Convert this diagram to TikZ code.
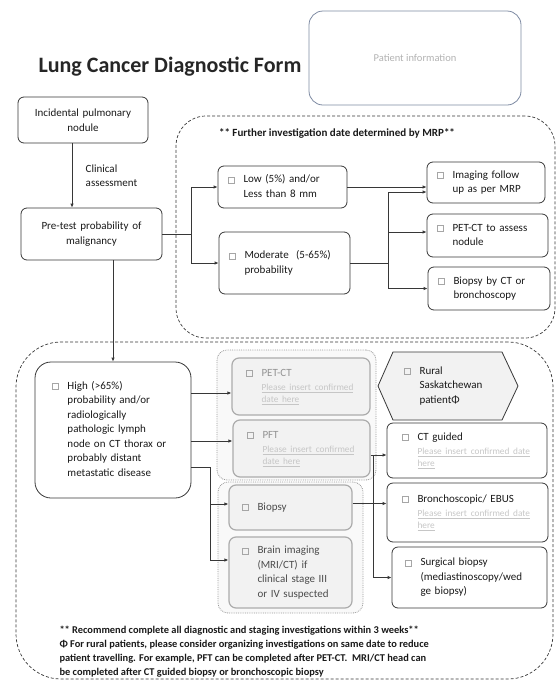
\documentclass[tikz,border=0pt]{standalone}
\usepackage{fontspec}
\setmainfont{Carlito}
\usepackage{xcolor}
\definecolor{inkgray}{RGB}{25,25,25}
\definecolor{framegray}{RGB}{55,55,55}
\definecolor{slateblue}{RGB}{125,138,162}
\usepackage{tikz}
\usetikzlibrary{positioning,arrows.meta}
\newcommand{\chkbx}{{\color{gray!70}\setlength{\fboxsep}{0pt}\setlength{\fboxrule}{0.5pt}\fbox{\rule{0pt}{5.5pt}\rule{5.5pt}{0pt}}}}
\newcommand{\chkitem}[1]{\chkbx\hspace{9pt}\begin{tabular}[t]{@{}l@{}}#1\end{tabular}}
\newcommand{\datefield}[1]{{\color{gray!45}\fontsize{9.3}{10}\selectfont\underline{#1}}}
\tikzstyle{stepbox} = [rectangle, draw=framegray, line width=0.8pt, rounded corners=6pt,
  text=inkgray, align=left, inner xsep=10pt, inner ysep=2pt]
\tikzstyle{graybox} = [stepbox, draw=gray!65, line width=1.2pt, fill=gray!10,
  rounded corners=7pt, text=black!70]
\tikzstyle{dashzone} = [rectangle, draw=framegray, densely dashed, line width=0.7pt]
\tikzstyle{greyzone} = [rectangle, draw=gray!80, densely dotted, line width=0.8pt,
  fill=gray!5, rounded corners=10pt]
\tikzstyle{link} = [draw=framegray, line width=0.8pt, ->]

\begin{document}
\begin{tikzpicture}[x=1pt, y=-1pt, font=\fontsize{11}{14.5}\selectfont,
  >={Latex[length=4pt,width=3.5pt]}]
  \useasboundingbox (0,0) rectangle (557,681);

  \node[anchor=base west, font=\fontsize{22}{26}\selectfont\bfseries, text=black!85] (title) at (35,72) {Lung Cancer Diagnostic Form};
  \node[draw=slateblue, line width=0.8pt, rounded corners=14pt, minimum width=212, minimum height=94,
    text=gray!60, font=\fontsize{10.5}{12}\selectfont] (patient) at (415,58) {Patient information};

  % dashed zones and grey groups
  \node[dashzone, rounded corners=30pt, minimum width=379, minimum height=222] (mrpzone) at (365.5,227) {};
  \node[font=\fontsize{11}{13}\selectfont\bfseries, text=inkgray] (mrpnote) at (337,133) {** Further investigation date determined by MRP**};
  \node[dashzone, rounded corners=45pt, minimum width=537, minimum height=337] (highzone) at (284.5,510.5) {};
  \node[greyzone, minimum width=159, minimum height=130] (imgzone) at (296.5,415) {};
  \node[greyzone, minimum width=145, minimum height=131] (bxzone) at (290.5,547.5) {};

  \node[stepbox, align=center, text width=110, minimum height=46] (nodule) at (83,120) {Incidental pulmonary\\nodule};
  \node[stepbox, align=center, text width=121, minimum height=52] (pretest) at (91.5,234) {Pre-test probability of\\malignancy};
  \node[stepbox, text width=109, minimum height=42] (low) at (282.5,187) {\chkitem{Low (5\%) and/or\\Less than 8 mm}};
  \node[stepbox, text width=111, minimum height=62] (moderate) at (284.5,263) {\chkitem{Moderate\ \ (5-65\%)\\probability}};
  \node[stepbox, text width=98, minimum height=41] (imaging) at (486,182.5) {\chkitem{Imaging follow\\up as per MRP}};
  \node[stepbox, text width=101, minimum height=43] (petnodule) at (487.5,235.5) {\chkitem{PET-CT to assess\\nodule}};
  \node[stepbox, text width=102, minimum height=43] (ctbronch) at (489,288.5) {\chkitem{Biopsy by CT or\\bronchoscopy}};

  \node[stepbox, rounded corners=16pt, inner xsep=17pt, text width=122, minimum height=136] (high) at (113,430)
    {\chkitem{High (>65\%)\\probability and/or\\radiologically\\pathologic lymph\\node on CT thorax or\\probably distant\\metastatic disease}};

  \node[graybox, inner xsep=14pt, text width=110, minimum height=57] (petct) at (301,386.5)
    {\chkitem{\textcolor{gray!85}{PET-CT}\\\datefield{Please insert confirmed}\\[-3pt]\datefield{date here}}};
  \node[graybox, inner xsep=14pt, text width=109, minimum height=57] (pft) at (301.5,448.5)
    {\chkitem{\textcolor{gray!85}{PFT}\\\datefield{Please insert confirmed}\\[-3pt]\datefield{date here}}};
  \node[graybox, inner xsep=13pt, text width=97, minimum height=45] (biopsy) at (290.5,507.5) {\chkitem{Biopsy}};
  \node[graybox, inner xsep=13pt, text width=97, minimum height=71] (brain) at (290.5,572.5)
    {\chkitem{Brain imaging\\(MRI/CT) if\\clinical stage III\\or IV suspected}};

  \draw[draw=framegray, line width=0.8pt, fill=gray!10] (378,386) -- (393,352) -- (502,352) -- (518,386) -- (502,420) -- (393,420) -- cycle;
  \node[text=inkgray, anchor=west] (rural) at (400.5,386) {\chkitem{Rural\\Saskatchewan\\patientΦ}};

  \node[stepbox, inner xsep=15pt, text width=130, minimum height=55] (ctguided) at (467,450.5)
    {\chkitem{CT guided\\\datefield{Please insert confirmed date}\\[-3pt]\datefield{here}}};
  \node[stepbox, inner xsep=15pt, text width=131, minimum height=59] (broncho) at (467.5,512.5)
    {\chkitem{Bronchoscopic/ EBUS\\\datefield{Please insert confirmed date}\\[-3pt]\datefield{here}}};
  \node[stepbox, inner xsep=13pt, text width=129, minimum height=61] (surgical) at (469.5,577.5)
    {\chkitem{Surgical biopsy\\(mediastinoscopy/wed\\ge biopsy)}};

  \node[anchor=north west, align=left, font=\fontsize{10.4}{14}\selectfont\bfseries, text=inkgray] (notes) at (56,623)
    {** Recommend complete all diagnostic and staging investigations within 3 weeks**\\
     Φ For rural patients, please consider organizing investigations on same date to reduce\\
     patient travelling. For example, PFT can be completed after PET-CT.\ \ MRI/CT head can\\
     be completed after CT guided biopsy or bronchoscopic biopsy};

  % connectors
  \path[link] ([xshift=-11pt]nodule.south) -- ([xshift=-11pt]nodule.south |- pretest.north)
    node[midway, right=10pt, align=left, text=inkgray] (clinical) {Clinical\\assessment};
  \path[link,-] (pretest.east) -- ++(28.5,0) coordinate (fork1);
  \path[link] (fork1) |- (low.west);
  \path[link] (fork1) |- (moderate.west);
  \path[link] (low.east) -- (low.east -| imaging.west);
  \path[link,-] (moderate.east) -- ++(38,0) coordinate (fork2);
  \path[link] (fork2) |- ([yshift=-9.5pt]imaging.west);
  \path[link] (fork2) |- ([yshift=3.5pt]petnodule.west);
  \path[link] (fork2) |- (ctbronch.west);
  \path[link] ([xshift=21.5pt]pretest.south) -- (high.north);
  \coordinate (inpet) at ([yshift=-6.5pt]petct.west);
  \path[link] (high.east |- inpet) -- (inpet);
  \coordinate (inpft) at ([yshift=7.5pt]pft.west);
  \path[link] (high.east |- inpft) -- (inpft);
  \path[link,-] ([yshift=-37pt]high.east) -- ++(19,0) coordinate (fork3);
  \path[link] (fork3) |- ([yshift=3.5pt]biopsy.west);
  \path[link] (fork3) |- ([yshift=12.5pt]brain.west);
  \path[link,-] ([yshift=-6.5pt]pft.east) -- ++(3,0) coordinate (fork4);
  \path[link] (fork4) -- (fork4 -| ctguided.west);
  \path[link] (fork4) |- (surgical.west);
  \path[link] ([yshift=4pt]biopsy.east) -- ([yshift=4pt]biopsy.east -| broncho.west);
\end{tikzpicture}
\end{document}
